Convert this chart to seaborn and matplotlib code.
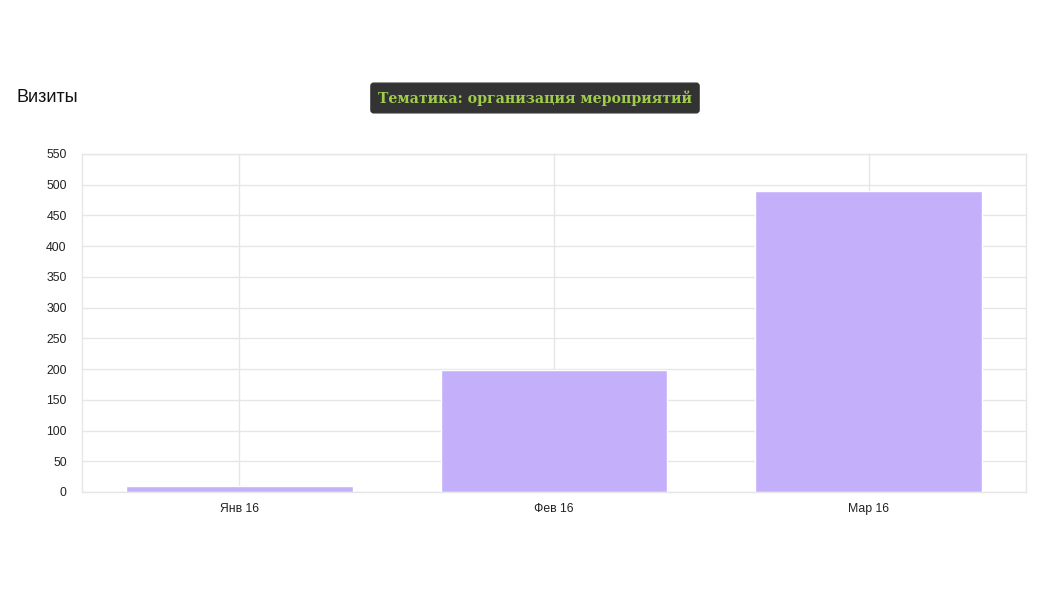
import matplotlib
matplotlib.use("Agg")
import matplotlib.pyplot as plt
import seaborn as sns
import pandas as pd

months = ["Янв 16", "Фев 16", "Мар 16"]
visits = [10, 199, 490]
y_ticks = [0, 50, 100, 150, 200, 250, 300, 350, 400, 450, 500, 550]

sns.set_theme(style="white")
plt.rcParams['font.family'] = ['Liberation Sans', 'DejaVu Sans']

df = pd.DataFrame({"month": months, "visits": visits})

fig = plt.figure(figsize=(10.62, 6), dpi=100)
ax = fig.add_axes([82/1062, 1-492/600, (1026-82)/1062, (492-154)/600])

sns.barplot(data=df, x="month", y="visits", color="#c4b0fa", width=0.72,
            saturation=1, ax=ax, zorder=2)

ax.set_ylim(0, 550)
ax.set_xlim(-0.5, 2.5)
ax.set_yticks(y_ticks)
ax.set_yticklabels([str(t) for t in y_ticks])
ax.grid(True, axis="both", color="#e6e6e6", linewidth=1, zorder=0)
ax.set_axisbelow(True)
for s in ax.spines.values():
    s.set_color("#e6e6e6")
    s.set_linewidth(1)
ax.tick_params(axis="both", length=0, labelsize=8.8, colors="#222222", pad=8)
ax.tick_params(axis="y", pad=11)
ax.set_xlabel("")
ax.set_ylabel("")

fig.text(17/1062, 1-98/600, "Визиты", fontsize=13, color="#111111",
         ha="left", va="center")
fig.text(535/1062, 1-98/600, "Тематика: организация мероприятий",
         fontsize=10.2, color="#a0cc4c", family=["DejaVu Serif"],
         fontweight="bold", ha="center", va="center",
         bbox=dict(boxstyle="round,pad=0.5,rounding_size=0.2", fc="#333333", ec="#333333"))

fig.savefig("out.png", dpi=100, facecolor="white")
